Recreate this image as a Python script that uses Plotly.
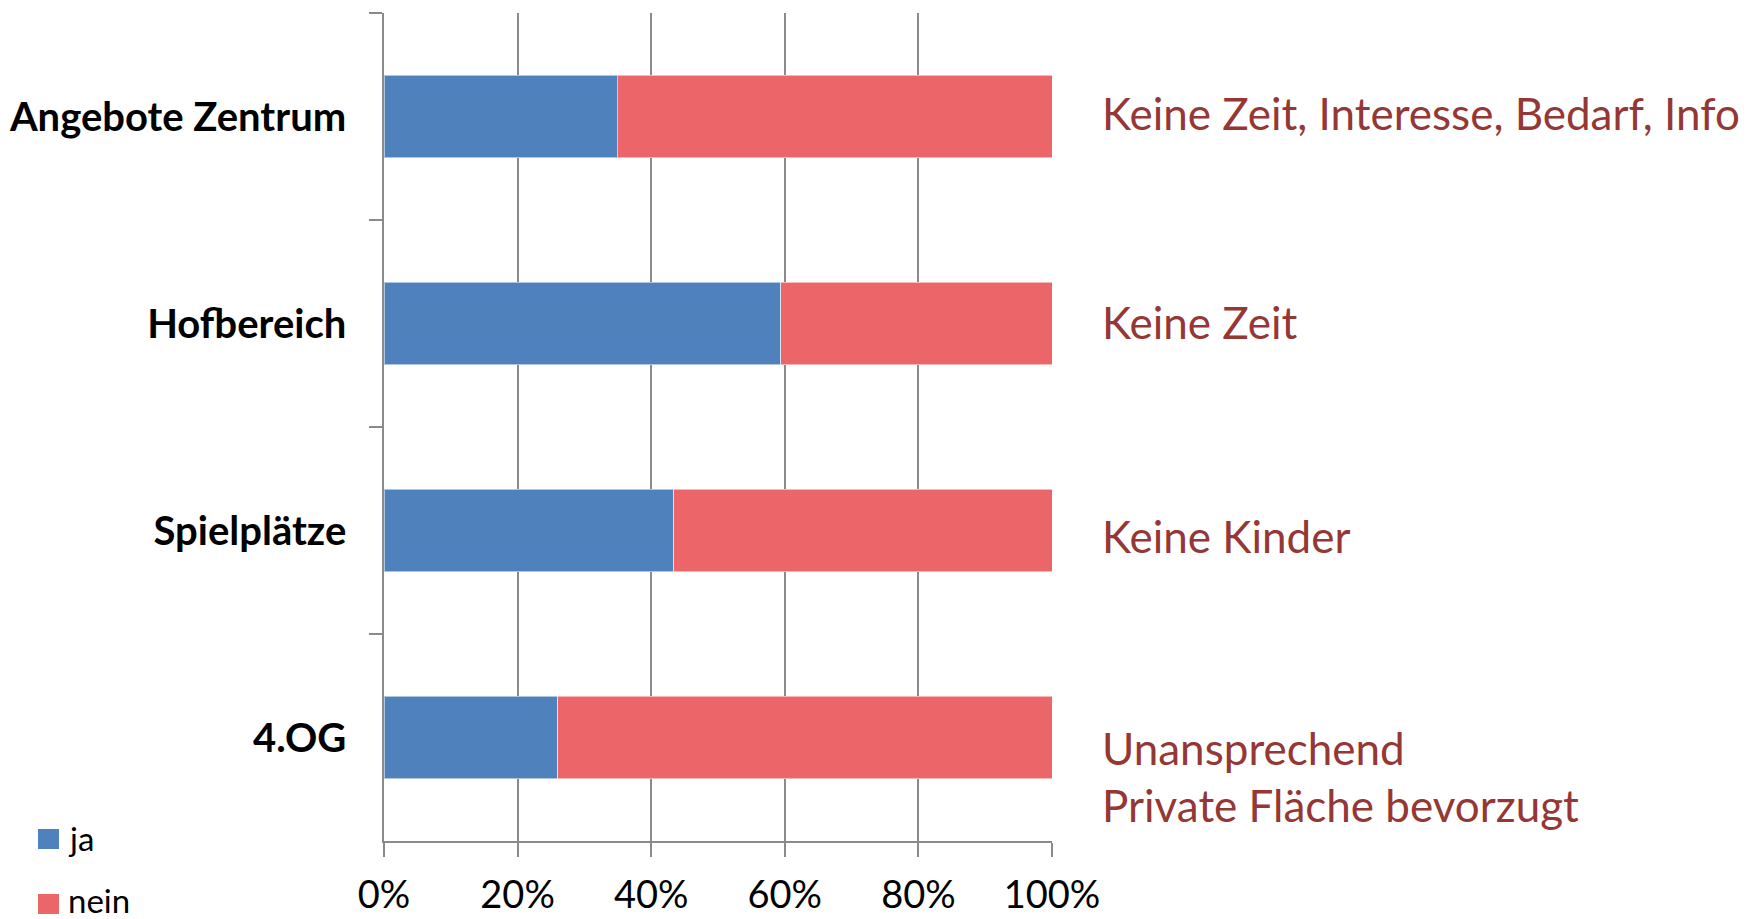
import plotly.graph_objects as go

# Survey: use of the shared spaces (share of answers, %)
categories = ["Angebote Zentrum", "Hofbereich", "Spielplätze", "4.OG"]
ja = [34.9, 59.4, 43.4, 26.0]
nein = [round(100 - v, 1) for v in ja]
reasons = [
    "Keine Zeit, Interesse, Bedarf, Info",
    "Keine Zeit",
    "Keine Kinder",
    "Unansprechend<br>Private Fläche bevorzugt",
]
tick_values = [0, 20, 40, 60, 80, 100]
tick_labels = ["0%", "20%", "40%", "60%", "80%", "100%"]
series_names = ["ja", "nein"]

BLUE = "#4F81BD"
RED = "#EC6569"
DARK_RED = "#953735"
AXIS_GREY = "#8A8A8A"
FONT = "Lato, 'Open Sans', sans-serif"

W, H = 1746, 919
L, R, T, B = 384, 694, 13, 78
plot_w = W - L - R
plot_h = H - T - B


def px_x(px):
    return (px - L) / plot_w


def px_y(py):
    return (H - B - py) / plot_h


fig = go.Figure()
for name, vals, col in [(series_names[0], ja, BLUE), (series_names[1], nein, RED)]:
    fig.add_trace(go.Bar(
        y=categories, x=vals, name=name, orientation="h",
        marker=dict(color=col, line=dict(color="rgba(255,255,255,0.55)", width=1)),
        showlegend=False,
    ))

# reasons given for "nein", placed beside each bar
offsets = [-4, -2, 5, 39]
for cat, txt, off in zip(categories, reasons, offsets):
    fig.add_annotation(
        x=1.072, xref="x domain", y=cat, yref="y", yshift=-off,
        text=txt, showarrow=False, xanchor="left", yanchor="middle", align="left",
        font=dict(family=FONT, size=44, color=DARK_RED),
    )

# legend keys at the lower left
legend_rows = [(series_names[0], BLUE, 829, 838), (series_names[1], RED, 894, 900)]
for name, col, top, mid in legend_rows:
    fig.add_shape(
        type="rect", xref="paper", yref="paper",
        x0=px_x(38), x1=px_x(59), y0=px_y(top + 20), y1=px_y(top),
        fillcolor=col, line=dict(width=0),
    )
    fig.add_annotation(
        x=px_x(66), xref="paper", y=px_y(mid), yref="paper",
        text=name, showarrow=False, xanchor="left", yanchor="middle",
        font=dict(family=FONT, size=33, color="black"),
    )

fig.update_layout(
    width=W, height=H,
    margin=dict(l=L, r=R, t=T, b=B, pad=0, autoexpand=False),
    barmode="stack", bargap=0.6,
    plot_bgcolor="white", paper_bgcolor="white",
    showlegend=False,
    font=dict(family=FONT, color="black"),
)
fig.update_xaxes(
    automargin=False,
    range=[0, 100], tickvals=tick_values, ticktext=tick_labels,
    showgrid=True, gridcolor=AXIS_GREY, gridwidth=1.5,
    showline=True, linecolor=AXIS_GREY, linewidth=1.5,
    ticks="outside", ticklen=14, tickcolor=AXIS_GREY, tickwidth=1.5,
    zeroline=False, ticklabelstandoff=6,
    tickfont=dict(family=FONT, size=38, color="black"),
)
fig.update_yaxes(
    automargin=False,
    autorange="reversed", tickson="boundaries",
    showgrid=False, zeroline=False,
    showline=True, linecolor=AXIS_GREY, linewidth=1.5,
    ticks="outside", ticklen=13, tickcolor=AXIS_GREY, tickwidth=1.5,
    ticklabelstandoff=28,
    tickfont=dict(family=FONT, size=40, color="black", weight="bold"),
)

fig.write_html("out.html")
